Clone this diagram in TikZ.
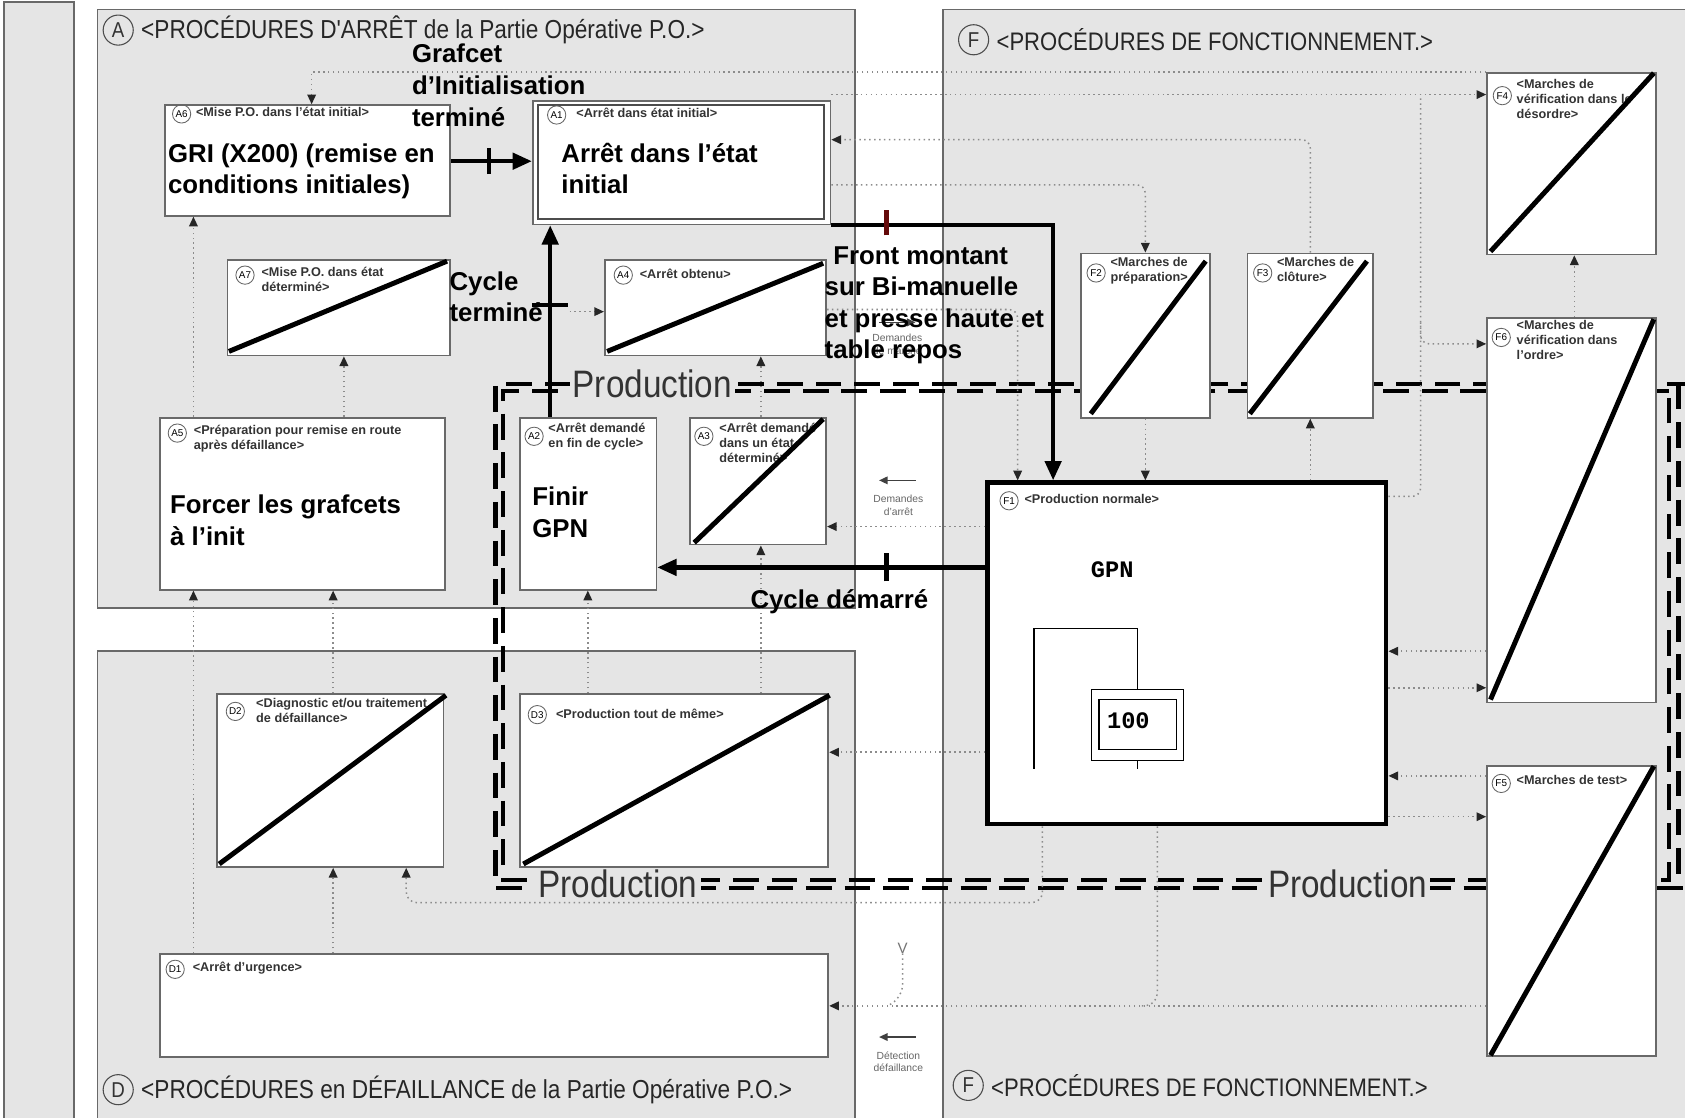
\documentclass[tikz,border=0pt]{standalone}
\usepackage{fontspec}
\setmainfont{Liberation Sans}
\newfontfamily\monof{Liberation Mono}
\newfontfamily\narrowf[FakeStretch=0.87]{Liberation Sans}
\usetikzlibrary{arrows.meta}
\definecolor{bgg}{RGB}{229,229,229}
\definecolor{edgeg}{RGB}{105,105,105}
\definecolor{dotg}{RGB}{140,140,140}
\definecolor{tickred}{RGB}{100,10,10}
\newcommand{\mkbox}[6]{\node[#6, anchor=north west, inner sep=0pt, minimum width={(#4-#2)*0.5pt}, minimum height={(#5-#3)*0.5pt}] (#1) at (#2,#3) {};}
\begin{document}
\begin{tikzpicture}[x=0.5pt,y=-0.5pt,
  sect/.style={draw=edgeg, fill=bgg, line width=0.8pt},
  gbox/.style={draw=edgeg, fill=white, line width=0.8pt},
  innerb/.style={draw=black!70, line width=0.8pt},
  f1box/.style={draw=black, fill=white, line width=2pt},
  stepb/.style={draw=black, line width=0.6pt},
  diag/.style={line width=2.3pt},
  heavy/.style={line width=2pt, -{Triangle[length=9pt,width=7.5pt]}},
  tickm/.style={line width=2pt},
  dotl/.style={dotg, line width=0.7pt, dash pattern=on 0.7pt off 1.6pt},
  dotarr/.style={dotl, -{Triangle[length=4.5pt,width=4pt,color=black!85]}},
  titlet/.style={text=black!85, inner sep=0pt, anchor=west},
  bigc/.style={circle, draw=black!70, line width=0.5pt, inner sep=0pt, minimum size=14pt, font=\narrowf\fontsize{10}{10}\selectfont, text=black!80},
  tagc/.style={circle, draw=black!60, line width=0.4pt, inner sep=0pt, minimum size=8.5pt, font=\fontsize{4.6}{5}\selectfont},
  tiny/.style={font=\bfseries\fontsize{5.9}{7}\selectfont, text=black!80, inner sep=0pt, anchor=north west, align=left},
  bigt/.style={font=\bfseries\fontsize{12}{14}\selectfont, inner sep=0pt, anchor=base west},
  prodt/.style={font=\narrowf\fontsize{17.8}{18}\selectfont, text=black!80, fill=bgg, inner sep=1.5pt},
  prodl/.style={line width=2pt, dash pattern=on 12pt off 6pt},
  smallt/.style={font=\fontsize{4.8}{6}\selectfont, text=black!60, inner sep=0pt, align=center},
  smarr/.style={black!75, line width=0.8pt, -{Triangle[length=4pt,width=3.5pt]}}
]
\fill[white] (0,0) rectangle (1568,1040);
\useasboundingbox (0,0) rectangle (1568,1040);

% sections
\mkbox{SL}{3}{1}{68}{1045}{sect}
\mkbox{SA}{90}{8}{795}{565}{sect}
\mkbox{SD}{90}{605}{795}{1050}{sect}
\mkbox{SF}{877}{8}{1585}{1050}{sect}

\node[bigc] (cA) at (110,28) {A};
\node[titlet, font=\narrowf\fontsize{12.1}{13}\selectfont] (tA) at (131,28) {<PROCÉDURES D'ARRÊT de la Partie Opérative P.O.>};
\node[bigc] (cF) at (906,37) {F};
\node[titlet, font=\narrowf\fontsize{11.8}{13}\selectfont] (tF) at (927,37) {<PROCÉDURES DE FONCTIONNEMENT.>};
\node[bigc] (cD) at (110,1014) {D};
\node[titlet, font=\narrowf\fontsize{12.1}{13}\selectfont] (tD) at (131,1014) {<PROCÉDURES en DÉFAILLANCE de la Partie Opérative P.O.>};
\node[bigc] (cF2) at (901,1010) {F};
\node[titlet, font=\narrowf\fontsize{11.8}{13}\selectfont] (tF2) at (922,1010) {<PROCÉDURES DE FONCTIONNEMENT.>};

% Production enclosure
\draw[prodl] (1575,357) -- (461,357) -- (461,826) -- (1575,826);
\draw[prodl] (1562,357) -- (1562,826);
\draw[prodl, dash phase=5pt] (1553,364) -- (468,364) -- (468,819) -- (1553,819) -- cycle;
\node[prodt] (P1) at (607,357) {Production};
\node[prodt] (P2) at (575,822) {Production};
\node[prodt] (P3) at (1254,822) {Production};

% boxes
\mkbox{A6}{153}{97}{418}{200}{gbox}
\mkbox{A1}{495}{93}{772}{208}{gbox}
\mkbox{A1i}{500}{97}{766}{203}{innerb}
\mkbox{A7}{211}{241}{418}{330}{gbox}
\mkbox{A4}{562}{241}{768}{330}{gbox}
\mkbox{A5}{148}{388}{413}{548}{gbox}
\mkbox{A2}{483}{388}{610}{548}{gbox}
\mkbox{A3}{641}{388}{768}{506}{gbox}
\mkbox{D2}{201}{645}{412}{806}{gbox}
\mkbox{D3}{483}{645}{770}{806}{gbox}
\mkbox{D1}{148}{887}{770}{983}{gbox}
\mkbox{F4}{1383}{67}{1540}{236}{gbox}
\mkbox{F2}{1005}{235}{1125}{388}{gbox}
\mkbox{F3}{1160}{235}{1277}{388}{gbox}
\mkbox{F6}{1383}{295}{1540}{653}{gbox}
\mkbox{F5}{1383}{712}{1540}{982}{gbox}
\mkbox{F1}{917}{447}{1288}{765}{f1box}

% tags
\node[tagc] (A6c) at (169,106) {A6};
\node[tiny] (A6t) at (182,99) {<Mise P.O. dans l'état initial>};
\node[tagc] (A1c) at (518,107) {A1};
\node[tiny] (A1t) at (536,100) {<Arrêt dans état initial>};
\node[tagc] (A7c) at (228,256) {A7};
\node[tiny] (A7t) at (243,248) {<Mise P.O. dans état\\déterminé>};
\node[tagc] (A4c) at (580,256) {A4};
\node[tiny] (A4t) at (595,250) {<Arrêt obtenu>};
\node[tagc] (A5c) at (165,403) {A5};
\node[tiny] (A5t) at (180,395) {<Préparation pour remise en route\\après défaillance>};
\node[tagc] (A2c) at (497,406) {A2};
\node[tiny] (A2t) at (510,393) {<Arrêt demandé\\en fin de cycle>};
\node[tagc] (A3c) at (655,406) {A3};
\node[tiny] (A3t) at (669,393) {<Arrêt demandé\\dans un état\\déterminé>};
\node[tagc] (D2c) at (219,662) {D2};
\node[tiny] (D2t) at (238,649) {<Diagnostic et/ou traitement\\de défaillance>};
\node[tagc] (D3c) at (500,665) {D3};
\node[tiny] (D3t) at (517,659) {<Production tout de même>};
\node[tagc] (D1c) at (163,902) {D1};
\node[tiny] (D1t) at (179,895) {<Arrêt d'urgence>};
\node[tagc] (F4c) at (1398,89) {F4};
\node[tiny] (F4t) at (1411,73) {<Marches de\\vérification dans le\\désordre>};
\node[tagc] (F2c) at (1020,254) {F2};
\node[tiny] (F2t) at (1033,239) {<Marches de\\préparation>};
\node[tagc] (F3c) at (1175,254) {F3};
\node[tiny] (F3t) at (1188,239) {<Marches de\\clôture>};
\node[tagc] (F6c) at (1397,314) {F6};
\node[tiny] (F6t) at (1411,298) {<Marches de\\vérification dans\\l'ordre>};
\node[tagc] (F5c) at (1397,729) {F5};
\node[tiny] (F5t) at (1411,721) {<Marches de test>};
\node[tagc] (F1c) at (939,466) {F1};
\node[tiny] (F1t) at (953,460) {<Production normale>};

% diagonals
\draw[diag] (213,327) -- (416,243);
\draw[diag] (565,327) -- (766,245);
\draw[diag] (646,505) -- (766,390);
\draw[diag] (204,804) -- (415,647);
\draw[diag] (487,804) -- (772,647);
\draw[diag] (1387,234) -- (1539,68);
\draw[diag] (1015,385) -- (1122,243);
\draw[diag] (1163,385) -- (1272,243);
\draw[diag] (1387,651) -- (1539,297);
\draw[diag] (1387,982) -- (1539,713);

% grafcet inside F1
\node[font=\monof\bfseries\fontsize{11}{12}\selectfont, inner sep=0pt] (GPN) at (1035,530) {GPN};
\mkbox{S100}{1015}{641}{1101}{707}{stepb}
\mkbox{S100i}{1022}{650}{1094}{697}{stepb}
\node[font=\monof\bfseries\fontsize{11}{12}\selectfont, inner sep=0pt] (N100) at (1050,671) {100};
\coordinate (gl) at (962,585);
\coordinate (gb) at (962,716);
\draw[line width=0.7pt] (S100.north) -- (S100.north |- gl) -- (gl) -- (gb);
\draw[line width=0.7pt] (S100.south) -- (S100.south |- gb);

% helper coordinates
\coordinate (x180) at (180,0); \coordinate (x290) at (290,0);
\coordinate (x310) at (310,0); \coordinate (x320) at (320,0);
\coordinate (x378) at (378,0); \coordinate (x547) at (547,0);
\coordinate (x708) at (708,0); \coordinate (x947) at (947,0);
\coordinate (x970) at (970,0); \coordinate (x1077) at (1077,0);
\coordinate (x1322) at (1322,0); \coordinate (x1465) at (1465,0);
\coordinate (y88) at (0,88); \coordinate (y130) at (0,130);
\coordinate (y150) at (0,150);
\coordinate (y172) at (0,172); \coordinate (y288) at (0,288);
\coordinate (y300) at (0,300);
\coordinate (y320) at (0,320); \coordinate (y462) at (0,462);
\coordinate (y490) at (0,490); \coordinate (y606) at (0,606);
\coordinate (y640) at (0,640); \coordinate (y700) at (0,700);
\coordinate (y722) at (0,722); \coordinate (y760) at (0,760);
\coordinate (y840) at (0,840); \coordinate (y936) at (0,936);

% dotted connectors
\draw[dotarr] (F4.north west) -- (x290 |- F4.north west) -- (A6.north -| x290);
\draw[dotarr] (A1.east |- y88) -- (F4.west |- y88);
\draw[dotl, rounded corners=4pt] (F1.east |- y462) -- (x1322 |- y462) -- (x1322 |- y88);
\draw[dotarr, rounded corners=4pt] (x1322 |- y300) -- (x1322 |- y320) -- (F6.west |- y320);
\draw[dotarr, rounded corners=4pt] (F3.north) -- (F3.north |- y130) -- (A1.east |- y130);
\draw[dotarr, rounded corners=4pt] (A1.east |- y172) -- (F2.north |- y172) -- (F2.north);
\draw[dotarr] (F2.south) -- (F2.south |- F1.north);
\draw[dotarr] (F3.south |- F1.north) -- (F3.south);
\draw[dotarr, rounded corners=4pt] (A4.east |- y288) -- (x947 |- y288) -- (x947 |- F1.north);
\draw[dotarr] (F1.west |- y490) -- (A3.east |- y490);
\draw[dotarr] (F1.west |- y700) -- (D3.east |- y700);
\draw[dotarr] (x180 |- A5.north) -- (x180 |- A6.south);
\draw[dotarr] (x320 |- A5.north) -- (x320 |- A7.south);
\draw[dotarr] (x708 |- A3.north) -- (x708 |- A4.south);
\coordinate (ct) at (530,290);
\draw[dotarr] (ct) -- (A4.west |- ct);
\draw[dotarr] (x180 |- D1.north) -- (x180 |- A5.south);
\draw[dotarr] (x310 |- D2.north) -- (x310 |- A5.south);
\draw[dotarr] (x310 |- D1.north) -- (x310 |- D2.south);
\draw[dotarr] (x547 |- D3.north) -- (x547 |- A2.south);
\draw[dotarr] (x708 |- D3.north) -- (x708 |- A3.south);
\draw[dotarr, rounded corners=5pt] (x970 |- F1.south) -- (x970 |- y840) -- (x378 |- y840) -- (x378 |- D2.south);
\draw[dotarr] (F5.west |- y936) -- (D1.east |- y936);
\coordinate (j1) at (1060,936);
\draw[dotl, rounded corners=6pt] (x1077 |- F1.south) -- (x1077 |- y936) -- (j1);
\draw[dotarr] (F6.north -| x1465) -- (F4.south -| x1465);
\draw[dotarr] (F6.west |- y606) -- (F1.east |- y606);
\draw[dotarr] (F1.east |- y640) -- (F6.west |- y640);
\draw[dotarr] (F5.west |- y722) -- (F1.east |- y722);
\draw[dotarr] (F1.east |- y760) -- (F5.west |- y760);
\node[font=\fontsize{7}{8}\selectfont, text=black!55, inner sep=0pt] (Vm) at (840,882) {V};
\coordinate (vb) at (840,928); \coordinate (vj) at (826,936);
\draw[dotl, rounded corners=6pt] (Vm.south) -- (vb) -- (vj);

% small labels in white strip
\coordinate (sa1) at (818,300); \coordinate (sa2) at (852,300);
\draw[smarr] (sa1) -- (sa2);
\node[smallt] (dm) at (835,320) {Demandes\\de marche};
\coordinate (sb1) at (852,447); \coordinate (sb2) at (818,447);
\draw[smarr] (sb1) -- (sb2);
\node[smallt] (da) at (836,470) {Demandes\\d'arrêt};
\coordinate (sc1) at (852,965); \coordinate (sc2) at (818,965);
\draw[smarr] (sc1) -- (sc2);
\node[smallt] (dd) at (836,988) {Détection\\défaillance};

% heavy connectors
\draw[heavy] (A6.east |- y150) -- (A1.west |- y150);
\coordinate (k1) at (455,150);
\draw[tickm] ([yshift=-6pt]k1) -- ([yshift=6pt]k1);
\coordinate (c2a) at (512,388);
\draw[heavy] (c2a) -- (c2a |- A1.south);
\coordinate (k2) at (512,284);
\draw[tickm] ([xshift=-8.5pt]k2) -- ([xshift=8.5pt]k2);
\coordinate (fx) at (980,0);
\draw[heavy] (A1.south east) -- (A1.south east -| fx) -- (fx |- F1.north);
\coordinate (k3) at (825,207);
\draw[tickm, tickred] ([yshift=-6pt]k3) -- ([yshift=6pt]k3);
\coordinate (c4) at (0,528);
\draw[heavy] (F1.west |- c4) -- (A2.east |- c4);
\coordinate (k4) at (825,528);
\draw[tickm] ([yshift=-6.5pt]k4) -- ([yshift=6.5pt]k4);

% big bold texts
\node[bigt] (g1) at (383,58) {Grafcet};
\node[bigt] (g2) at (383,88) {d’Initialisation};
\node[bigt] (g3) at (383,118) {terminé};
\node[bigt] (r1) at (156,151) {GRI (X200) (remise en};
\node[bigt] (r2) at (156,180) {conditions initiales)};
\node[bigt] (e1) at (522,151) {Arrêt dans l’état};
\node[bigt] (e2) at (522,180) {initial};
\node[bigt] (c1) at (418,270) {Cycle};
\node[bigt] (c2) at (418,299) {terminé};
\node[bigt] (m1) at (775,246) {Front montant};
\node[bigt] (m2) at (767,275) {sur Bi-manuelle};
\node[bigt] (m3) at (767,305) {et presse haute et};
\node[bigt] (m4) at (767,334) {table repos};
\node[bigt] (i1) at (158,478) {Forcer les grafcets};
\node[bigt] (i2) at (158,508) {à l’init};
\node[bigt] (n1) at (495,470) {Finir};
\node[bigt] (n2) at (495,500) {GPN};
\node[bigt] (cd) at (698,566) {Cycle démarré};
\end{tikzpicture}
\end{document}
